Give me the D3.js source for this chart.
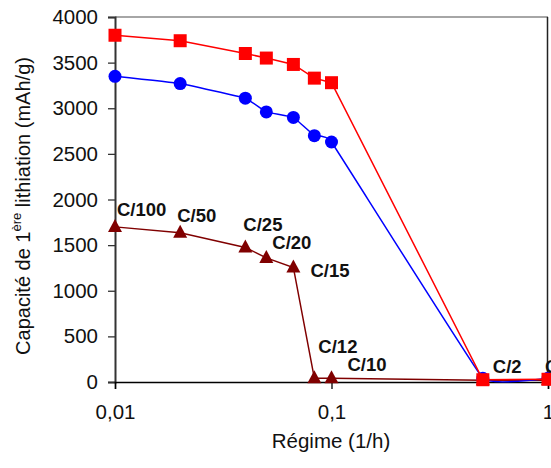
<!DOCTYPE html>
<html><head><meta charset="utf-8">
<script src="https://cdn.jsdelivr.net/npm/d3@7/dist/d3.min.js"></script>
<style>
html,body{margin:0;padding:0;background:#fff;}
svg{display:block;font-family:"Liberation Sans",Arial,sans-serif;}
</style></head>
<body><svg id="chart" width="551" height="468"></svg>
<script>
// Data
const rates = [0.01, 0.02, 0.04, 0.05, 1/15, 1/12, 0.1, 0.5, 1];
const rateLabels = ["C/100","C/50","C/25","C/20","C/15","C/12","C/10","C/2","C/1"];
const seriesRed = [3800, 3740, 3600, 3550, 3480, 3330, 3280, 25, 30];
const seriesBlue = [3350, 3270, 3110, 2960, 2900, 2700, 2630, 40, 40];
const seriesDarkRed = [1700, 1635, 1475, 1360, 1255, 40, 40, 20, 20];
const yTicks = [0, 500, 1000, 1500, 2000, 2500, 3000, 3500, 4000];
const xTicks = [0.01, 0.1, 1];
const xTickLabels = ["0,01", "0,1", "1"];

// Layout (label offsets in px relative to the dark-red point)
const labelOffsets = [[2,-11],[-3,-11],[-2,-16],[6,-9],[17,10],[4,-25],[16,-7],[10,-7],[-3,-7]];

const svg = d3.select("#chart");
const x = d3.scaleLog().domain([0.01, 1]).range([115, 548]);
const y = d3.scaleLinear().domain([0, 4000]).range([382, 17]);

// Plot frame top / right
svg.append("line").attr("x1",115).attr("x2",548).attr("y1",y(4000)).attr("y2",y(4000))
  .attr("stroke","#888").attr("stroke-width",1.5);
svg.append("line").attr("x1",547.5).attr("x2",547.5).attr("y1",y(4000)).attr("y2",y(0))
  .attr("stroke","#222").attr("stroke-width",1.5);

// Y axis
const yAxis = d3.axisLeft(y).tickValues(yTicks).tickSize(7).tickPadding(10).tickFormat(d3.format("d"));
const gy = svg.append("g").attr("transform","translate(115,0)").call(yAxis);
gy.select(".domain").attr("stroke","#333").attr("stroke-width",2);
gy.selectAll(".tick line").attr("stroke","#333").attr("stroke-width",1.3);
gy.selectAll("text").attr("font-size",20.5).attr("fill","#111")
  .attr("font-family","'Liberation Sans',Arial,sans-serif");

// X axis
const xAxis = d3.axisBottom(x).tickValues(xTicks).tickSize(7).tickPadding(15)
  .tickFormat((d,i) => xTickLabels[i]);
const gx = svg.append("g").attr("transform","translate(0,382)").call(xAxis);
gx.select(".domain").attr("stroke","#000").attr("stroke-width",1.5);
gx.selectAll(".tick line").attr("stroke","#000").attr("stroke-width",1.3);
gx.selectAll("text").attr("font-size",20.5).attr("fill","#111")
  .attr("font-family","'Liberation Sans',Arial,sans-serif");

// Axis titles
svg.append("text").attr("x",331).attr("y",448).attr("text-anchor","middle")
  .attr("font-size",20.5).attr("fill","#111").text("Régime (1/h)");
const yt = svg.append("text").attr("transform","translate(30,206) rotate(-90)")
  .attr("text-anchor","middle").attr("font-size",20).attr("fill","#111");
yt.append("tspan").text("Capacité de 1");
yt.append("tspan").attr("font-size",13).attr("dy",-9).text("ère");
yt.append("tspan").attr("dy",9).text(" lithiation (mAh/g)");

// Series
function pts(vals){ return rates.map((r,i)=>[r, vals[i]]); }
const lineLin = d3.line().x(d=>x(d[0])).y(d=>y(d[1]));
const lineSmooth = d3.line().x(d=>x(d[0])).y(d=>y(d[1])).curve(d3.curveCardinal.tension(0.8));

// dark red
svg.append("path").attr("d", lineLin(pts(seriesDarkRed))).attr("fill","none")
  .attr("stroke","#800000").attr("stroke-width",1.5);
svg.selectAll(".tri").data(pts(seriesDarkRed)).enter().append("path")
  .attr("transform", d=>`translate(${x(d[0])},${y(d[1])})`)
  .attr("d", "M0,-8L7,5L-7,5Z").attr("fill","#800000");

// blue
svg.append("path").attr("d", lineSmooth(pts(seriesBlue))).attr("fill","none")
  .attr("stroke","#0000FF").attr("stroke-width",1.5);
svg.selectAll(".circ").data(pts(seriesBlue)).enter().append("circle")
  .attr("cx", d=>x(d[0])).attr("cy", d=>y(d[1])).attr("r",6.5).attr("fill","#0000FF");

// red
svg.append("path").attr("d", lineLin(pts(seriesRed))).attr("fill","none")
  .attr("stroke","#FF0000").attr("stroke-width",1.5);
svg.selectAll(".sq").data(pts(seriesRed)).enter().append("rect")
  .attr("x", d=>x(d[0])-6.5).attr("y", d=>y(d[1])-6.5).attr("width",13).attr("height",13)
  .attr("fill","#FF0000");

// Labels
svg.selectAll(".lbl").data(rateLabels).enter().append("text")
  .attr("x",(d,i)=>x(rates[i])+labelOffsets[i][0])
  .attr("y",(d,i)=>y(seriesDarkRed[i])+labelOffsets[i][1])
  .attr("font-size",18.5).attr("font-weight","bold").attr("fill","#111").text(d=>d);
</script></body></html>
